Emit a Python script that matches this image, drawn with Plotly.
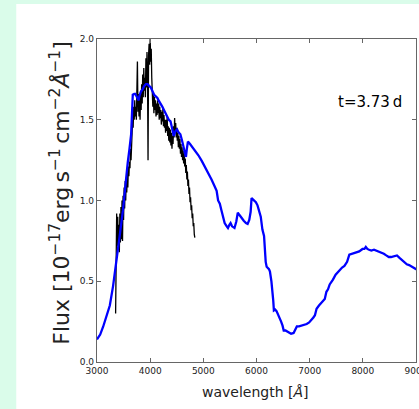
import plotly.graph_objects as go

# Model spectrum (blue)
model_wave = [3000, 3060, 3117, 3180, 3241, 3302, 3364, 3426, 3488, 3519, 3550, 3580, 3611, 3642, 3660, 3673,
              3700, 3720, 3735, 3760, 3784, 3800, 3827, 3860, 3889, 3920, 3951, 3980, 4012, 4040, 4074, 4105,
              4136, 4167, 4198, 4230, 4259, 4290, 4321, 4350, 4383, 4410, 4444, 4475, 4506, 4537, 4568, 4600,
              4630, 4655, 4673, 4690, 4710, 4750, 4784, 4850, 4907, 4970, 5031, 5090, 5154, 5216, 5250, 5278,
              5310, 5340, 5370, 5401, 5440, 5463, 5490, 5512, 5540, 5586, 5620, 5648, 5680, 5710, 5760, 5802,
              5833, 5864, 5890, 5907, 5926, 5960, 5988, 6019, 6049, 6080, 6111, 6142, 6173, 6191, 6235, 6253,
              6280, 6296, 6315, 6327, 6350, 6377, 6400, 6420, 6440, 6463, 6490, 6512, 6545, 6574, 6605, 6650,
              6698, 6730, 6759, 6800, 6852, 6900, 6944, 6990, 7037, 7070, 7099, 7130, 7175, 7222, 7255, 7284,
              7315, 7345, 7377, 7410, 7438, 7488, 7525, 7562, 7610, 7654, 7704, 7746, 7790, 7839, 7885, 7932,
              7994, 8030, 8056, 8085, 8117, 8160, 8210, 8250, 8302, 8350, 8395, 8440, 8488, 8530, 8580, 8642,
              8690, 8735, 8780, 8827, 8870, 8920, 8963, 9000, 9050]
model_flux = [0.14, 0.17, 0.22, 0.28, 0.35, 0.47, 0.61, 0.78, 0.94, 1.05, 1.16, 1.24, 1.32, 1.41, 1.55, 1.655,
              1.66, 1.66, 1.65, 1.63, 1.62, 1.65, 1.675, 1.69, 1.71, 1.72, 1.72, 1.71, 1.70, 1.68, 1.655, 1.645,
              1.635, 1.615, 1.60, 1.58, 1.56, 1.54, 1.52, 1.50, 1.49, 1.45, 1.40, 1.43, 1.44, 1.42, 1.41, 1.37,
              1.335, 1.30, 1.27, 1.32, 1.365, 1.35, 1.335, 1.31, 1.28, 1.245, 1.21, 1.17, 1.13, 1.085, 1.06, 1.00,
              0.98, 0.94, 0.90, 0.86, 0.84, 0.83, 0.85, 0.86, 0.84, 0.83, 0.87, 0.925, 0.91, 0.895, 0.875, 0.86,
              0.855, 0.88, 0.93, 1.015, 1.01, 1.00, 0.99, 0.97, 0.94, 0.90, 0.82, 0.78, 0.62, 0.59, 0.575, 0.56,
              0.50, 0.46, 0.38, 0.32, 0.325, 0.315, 0.30, 0.28, 0.265, 0.25, 0.225, 0.195, 0.195, 0.19, 0.18, 0.175,
              0.18, 0.20, 0.22, 0.22, 0.225, 0.23, 0.235, 0.245, 0.26, 0.275, 0.29, 0.33, 0.35, 0.37, 0.38, 0.39,
              0.435, 0.45, 0.48, 0.495, 0.51, 0.54, 0.555, 0.57, 0.585, 0.595, 0.62, 0.665, 0.67, 0.675, 0.68, 0.685,
              0.70, 0.70, 0.712, 0.70, 0.695, 0.69, 0.695, 0.69, 0.685, 0.68, 0.67, 0.66, 0.65, 0.65, 0.655, 0.66,
              0.645, 0.63, 0.62, 0.605, 0.60, 0.59, 0.58, 0.575, 0.57]

# Observed spectrum (black)
obs_wave = [3350, 3360, 3370, 3380, 3390, 3400, 3410, 3420, 3430, 3440,
            3450, 3460, 3470, 3480, 3490, 3500, 3510, 3520, 3530, 3540,
            3550, 3560, 3570, 3580, 3590, 3600, 3610, 3620, 3630, 3640,
            3650, 3660, 3670, 3680, 3690, 3700, 3710, 3720, 3730, 3740,
            3750, 3760, 3770, 3780, 3790, 3800, 3810, 3820, 3830, 3840,
            3850, 3860, 3870, 3880, 3890, 3900, 3910, 3920, 3930, 3940,
            3950, 3960, 3970, 3980, 3990, 4000, 4010, 4020, 4030, 4040,
            4050, 4060, 4070, 4080, 4090, 4100, 4110, 4120, 4130, 4140,
            4150, 4160, 4170, 4180, 4190, 4200, 4210, 4220, 4230, 4240,
            4250, 4260, 4270, 4280, 4290, 4300, 4310, 4320, 4330, 4340,
            4350, 4360, 4370, 4380, 4390, 4400, 4410, 4420, 4430, 4440,
            4450, 4460, 4470, 4480, 4490, 4500, 4510, 4520, 4530, 4540,
            4550, 4560, 4570, 4580, 4590, 4600, 4610, 4620, 4630, 4640,
            4650, 4660, 4670, 4680, 4690, 4700, 4710, 4720, 4730, 4740,
            4750, 4760, 4770, 4780, 4790, 4800, 4810, 4820, 4830, 4840]
obs_flux = [0.30, 0.60, 0.92, 0.72, 0.90, 0.70, 0.85, 0.68, 0.92, 0.74,
            0.96, 0.76, 1.00, 0.75, 1.03, 0.88, 1.08, 0.95, 1.12, 1.00,
            1.14, 1.05, 1.18, 1.08, 1.21, 1.15, 1.24, 1.20, 1.32, 1.25,
            1.40, 1.35, 1.50, 1.45, 1.58, 1.50, 1.62, 1.52, 1.58, 1.50,
            1.62, 1.86, 1.55, 1.66, 1.52, 1.64, 1.50, 1.68, 1.56, 1.72,
            1.60, 1.78, 1.64, 1.82, 1.68, 1.76, 1.64, 1.88, 1.70, 1.92,
            1.78, 1.25, 1.90, 1.97, 1.84, 2.00, 1.86, 1.94, 1.76, 1.68,
            1.58, 1.66, 1.54, 1.64, 1.56, 1.62, 1.52, 1.60, 1.53, 1.62,
            1.54, 1.60, 1.50, 1.58, 1.51, 1.56, 1.47, 1.55, 1.49, 1.57,
            1.46, 1.53, 1.45, 1.50, 1.42, 1.50, 1.43, 1.52, 1.40, 1.46,
            1.37, 1.45, 1.36, 1.44, 1.34, 1.42, 1.32, 1.40, 1.35, 1.46,
            1.39, 1.51, 1.42, 1.48, 1.39, 1.45, 1.37, 1.42, 1.33, 1.40,
            1.32, 1.38, 1.29, 1.35, 1.27, 1.33, 1.25, 1.31, 1.23, 1.29,
            1.21, 1.26, 1.17, 1.22, 1.13, 1.18, 1.09, 1.13, 1.04, 1.08,
            0.99, 1.02, 0.94, 0.97, 0.89, 0.92, 0.84, 0.86, 0.79, 0.77]

x_ticks = [3000, 4000, 5000, 6000, 7000, 8000, 9000]
y_ticks = [0.0, 0.5, 1.0, 1.5, 2.0]
epoch_label = "t=3.73\u2009d"

FONT = "DejaVu Sans"
AXC = "#666666"

fig = go.Figure()
fig.add_trace(go.Scatter(x=obs_wave, y=obs_flux, mode="lines",
                         line=dict(color="black", width=1.3), hoverinfo="skip"))
fig.add_trace(go.Scatter(x=model_wave, y=model_flux, mode="lines",
                         line=dict(color="#0000ff", width=2.3), hoverinfo="skip"))

axis_common = dict(showgrid=False, zeroline=False, showline=True, linecolor=AXC, linewidth=1.2,
                   ticks="inside", ticklen=4, tickwidth=1, tickcolor=AXC, mirror="ticks",
                   tickfont=dict(family=FONT, size=9, color="#222222"))
fig.update_xaxes(range=[3000, 9000], tickvals=x_ticks, ticktext=[str(v) for v in x_ticks], **axis_common)
fig.update_yaxes(range=[0, 2], tickvals=y_ticks, ticktext=["%.1f" % v for v in y_ticks], **axis_common)

fig.add_shape(type="rect", xref="paper", yref="paper", x0=-0.2531, x1=1.5, y0=-0.5, y1=1.1084,
              fillcolor="white", line=dict(width=0), layer="below")

fig.add_annotation(x=8130, y=1.61, xref="x", yref="y", text=epoch_label, showarrow=False,
                   font=dict(family=FONT, size=15, color="black"))
fig.add_annotation(x=0.497, y=-0.092, xref="paper", yref="paper", text="wavelength [<i>Å</i>]",
                   showarrow=False, yanchor="middle", font=dict(family=FONT, size=14, color="#222222"))
fig.add_annotation(x=-0.117, y=0.523, xref="paper", yref="paper",
                   text="Flux [10<sup>\u221217</sup>erg\u2009s<sup>\u22121</sup>\u2009cm<sup>\u22122</sup><i>Å</i><sup>\u22121</sup>]",
                   textangle=-90, showarrow=False, xanchor="center", yanchor="middle",
                   font=dict(family=FONT, size=22, color="#222222"))

fig.update_layout(width=440, height=409, margin=dict(l=97, r=19, t=39, b=47),
                  paper_bgcolor="#dafcea", plot_bgcolor="white", showlegend=False)

fig.write_html("out.html", post_script="document.body.style.overflow='hidden';document.documentElement.style.overflow='hidden';")
